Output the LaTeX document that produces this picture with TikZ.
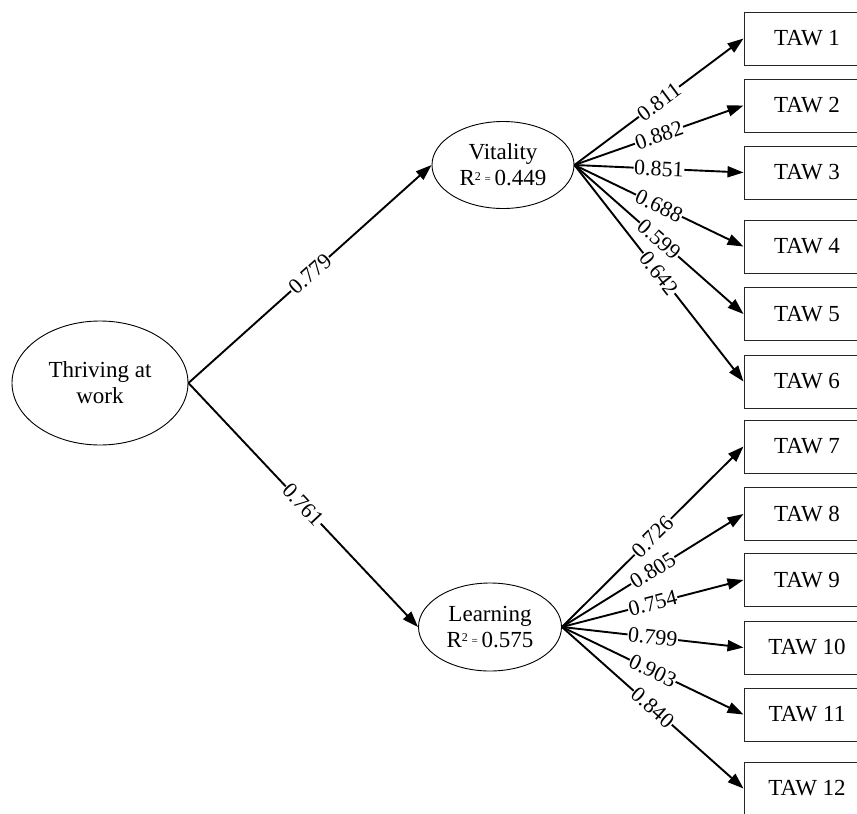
\documentclass[tikz,border=0pt]{standalone}
\usepackage{fontspec}
\setmainfont{Liberation Serif}
\usetikzlibrary{shapes.geometric,arrows.meta}
\begin{document}
\begin{tikzpicture}[x=1pt,y=-1pt,
  lat/.style={ellipse,draw,line width=0.9pt,inner sep=0pt,align=center,
    font=\fontsize{23}{26}\selectfont},
  obs/.style={rectangle,draw=black!85,line width=1pt,minimum width=126pt,minimum height=53pt,
    inner sep=0pt,font=\fontsize{23}{26}\selectfont},
  path/.style={line width=1.9pt,-{Triangle[length=16pt,width=11pt]}},
  coef/.style={midway,sloped,fill=white,inner sep=0.6pt,font=\fontsize{22}{24}\selectfont}]
\useasboundingbox (0,0) rectangle (857,814);
\newcommand{\Rsq}[1]{R\raisebox{0.55ex}{\fontsize{12}{12}\selectfont 2}\,\raisebox{0.3ex}{\fontsize{11}{12}\selectfont=}\,#1}
\node[lat,minimum width=176pt,minimum height=124pt] (thr) at (100,383) {Thriving at\\work};
\node[lat,minimum width=142pt,minimum height=87pt] (vit) at (503,165) {Vitality\\\Rsq{0.449}};
\node[lat,minimum width=143pt,minimum height=88pt] (lea) at (490,627) {Learning\\\Rsq{0.575}};
\node[obs] (t1) at (807,38.5) {TAW 1};
\node[obs] (t2) at (807,105.5) {TAW 2};
\node[obs] (t3) at (807,172.5) {TAW 3};
\node[obs] (t4) at (807,246.5) {TAW 4};
\node[obs] (t5) at (807,314) {TAW 5};
\node[obs] (t6) at (807,381.5) {TAW 6};
\node[obs] (t7) at (807,446.5) {TAW 7};
\node[obs] (t8) at (807,514) {TAW 8};
\node[obs] (t9) at (807,580) {TAW 9};
\node[obs] (t10) at (807,647.5) {TAW 10};
\node[obs] (t11) at (807,714.5) {TAW 11};
\node[obs] (t12) at (807,788.5) {TAW 12};
\draw[path] (thr.east) -- node[coef]{0.779} (vit.west);
\draw[path] (thr.east) -- node[coef]{0.761} (lea.west);
\draw[path] (vit.east) -- node[coef]{0.811} (t1.west);
\draw[path] (vit.east) -- node[coef]{0.882} (t2.west);
\draw[path] (vit.east) -- node[coef]{0.851} (t3.west);
\draw[path] (vit.east) -- node[coef]{0.688} (t4.west);
\draw[path] (vit.east) -- node[coef]{0.599} (t5.west);
\draw[path] (vit.east) -- node[coef]{0.642} (t6.west);
\draw[path] (lea.east) -- node[coef]{0.726} (t7.west);
\draw[path] (lea.east) -- node[coef]{0.805} (t8.west);
\draw[path] (lea.east) -- node[coef]{0.754} (t9.west);
\draw[path] (lea.east) -- node[coef]{0.799} (t10.west);
\draw[path] (lea.east) -- node[coef]{0.903} (t11.west);
\draw[path] (lea.east) -- node[coef]{0.840} (t12.west);
\end{tikzpicture}
\end{document}
